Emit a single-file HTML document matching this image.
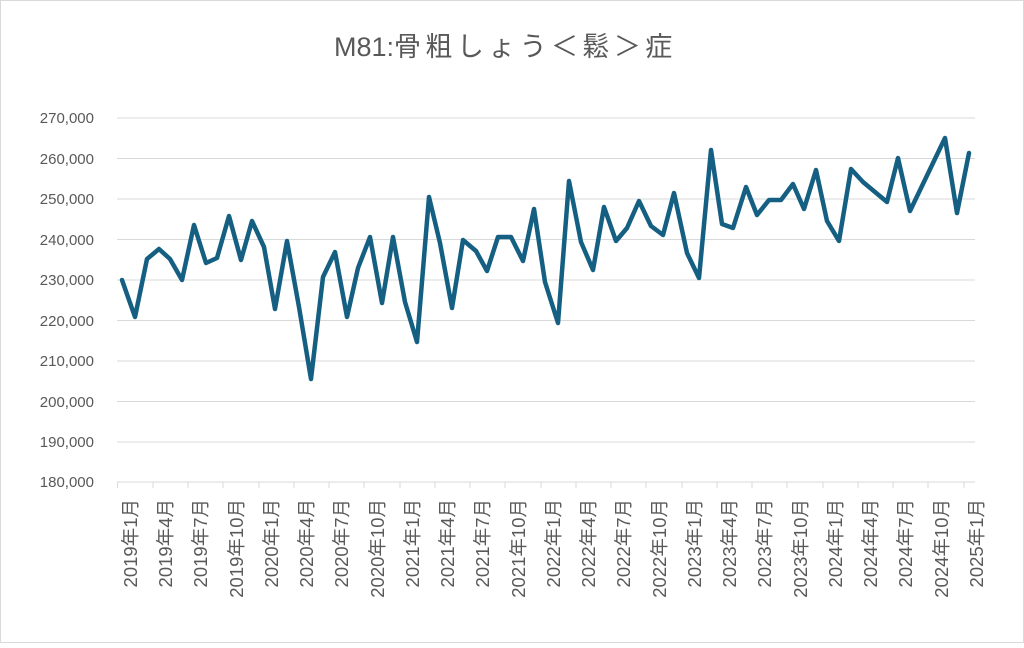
<!DOCTYPE html>
<html><head><meta charset="utf-8"><style>
body{margin:0;background:#fff}
svg text{font-family:"Liberation Sans","Noto Sans CJK JP",sans-serif;fill:#595959}
</style></head><body>
<svg width="1024" height="643" viewBox="0 0 1024 643">
<rect x="0.5" y="0.5" width="1023" height="642" fill="#fff" stroke="#d9d9d9"/>
<text x="334" y="56" font-size="27">M81:<tspan letter-spacing="4.4">骨粗しょう＜鬆＞症</tspan></text>
<g stroke="#d9d9d9" stroke-width="1">
<line x1="117" x2="975" y1="118" y2="118"/><line x1="117" x2="975" y1="158.5" y2="158.5"/>
<line x1="117" x2="975" y1="199" y2="199"/><line x1="117" x2="975" y1="239.5" y2="239.5"/>
<line x1="117" x2="975" y1="280" y2="280"/><line x1="117" x2="975" y1="320.5" y2="320.5"/>
<line x1="117" x2="975" y1="361" y2="361"/><line x1="117" x2="975" y1="401.5" y2="401.5"/>
<line x1="117" x2="975" y1="442" y2="442"/><line x1="117" x2="975" y1="482" y2="482"/>
<path d="M117.5 482v6M153 482v6M188 482v6M223 482v6M259 482v6M294 482v6M329 482v6M364 482v6M400 482v6M435 482v6M470 482v6M505 482v6M541 482v6M576 482v6M611 482v6M646 482v6M682 482v6M717 482v6M752 482v6M787 482v6M823 482v6M858 482v6M893 482v6M928 482v6M964 482v6"/>
</g>
<g font-size="15" text-anchor="end">
<text x="94" y="123">270,000</text><text x="94" y="164">260,000</text><text x="94" y="204">250,000</text>
<text x="94" y="245">240,000</text><text x="94" y="285">230,000</text><text x="94" y="326">220,000</text>
<text x="94" y="366">210,000</text><text x="94" y="407">200,000</text><text x="94" y="447">190,000</text>
<text x="94" y="487">180,000</text>
</g>
<g font-size="18.5" text-anchor="end">
<text transform="translate(137,499) rotate(-90)">2019年1月</text>
<text transform="translate(172,499) rotate(-90)">2019年4月</text>
<text transform="translate(207,499) rotate(-90)">2019年7月</text>
<text transform="translate(243,499) rotate(-90)">2019年10月</text>
<text transform="translate(278,499) rotate(-90)">2020年1月</text>
<text transform="translate(313,499) rotate(-90)">2020年4月</text>
<text transform="translate(348,499) rotate(-90)">2020年7月</text>
<text transform="translate(384,499) rotate(-90)">2020年10月</text>
<text transform="translate(419,499) rotate(-90)">2021年1月</text>
<text transform="translate(454,499) rotate(-90)">2021年4月</text>
<text transform="translate(489,499) rotate(-90)">2021年7月</text>
<text transform="translate(525,499) rotate(-90)">2021年10月</text>
<text transform="translate(560,499) rotate(-90)">2022年1月</text>
<text transform="translate(595,499) rotate(-90)">2022年4月</text>
<text transform="translate(630,499) rotate(-90)">2022年7月</text>
<text transform="translate(666,499) rotate(-90)">2022年10月</text>
<text transform="translate(701,499) rotate(-90)">2023年1月</text>
<text transform="translate(736,499) rotate(-90)">2023年4月</text>
<text transform="translate(771,499) rotate(-90)">2023年7月</text>
<text transform="translate(807,499) rotate(-90)">2023年10月</text>
<text transform="translate(842,499) rotate(-90)">2024年1月</text>
<text transform="translate(877,499) rotate(-90)">2024年4月</text>
<text transform="translate(912,499) rotate(-90)">2024年7月</text>
<text transform="translate(948,499) rotate(-90)">2024年10月</text>
<text transform="translate(983,499) rotate(-90)">2025年1月</text>
</g>
<polyline fill="none" stroke="#156082" stroke-width="4.5" stroke-linejoin="round" stroke-linecap="round" points="122,280 135,317 147,259 159,249 170,259 182,280 194,225 206,263 217,258 229,216 241,260 252,221 264,247 275,309 287,241 299,307 311,379 323,277 335,252 347,317 358,268 370,237 382,303 393,237 405,302 417,342 429,197 440,243 452,308 463,240 476,251 487,271 498,237 511,237 523,261 534,209 545,282 558,323 569,181 581,242 593,270 604,207 616,241 627,228 639,201 651,226 663,235 674,193 687,253 699,278 711,150 722,224 733,228 746,187 757,215 769,200 781,200 793,184 804,209 816,170 827,221 839,241 851,169 863,182 875,192 887,202 898,158 910,211 945,138 957,213 969,153"/>
</svg>
</body></html>
